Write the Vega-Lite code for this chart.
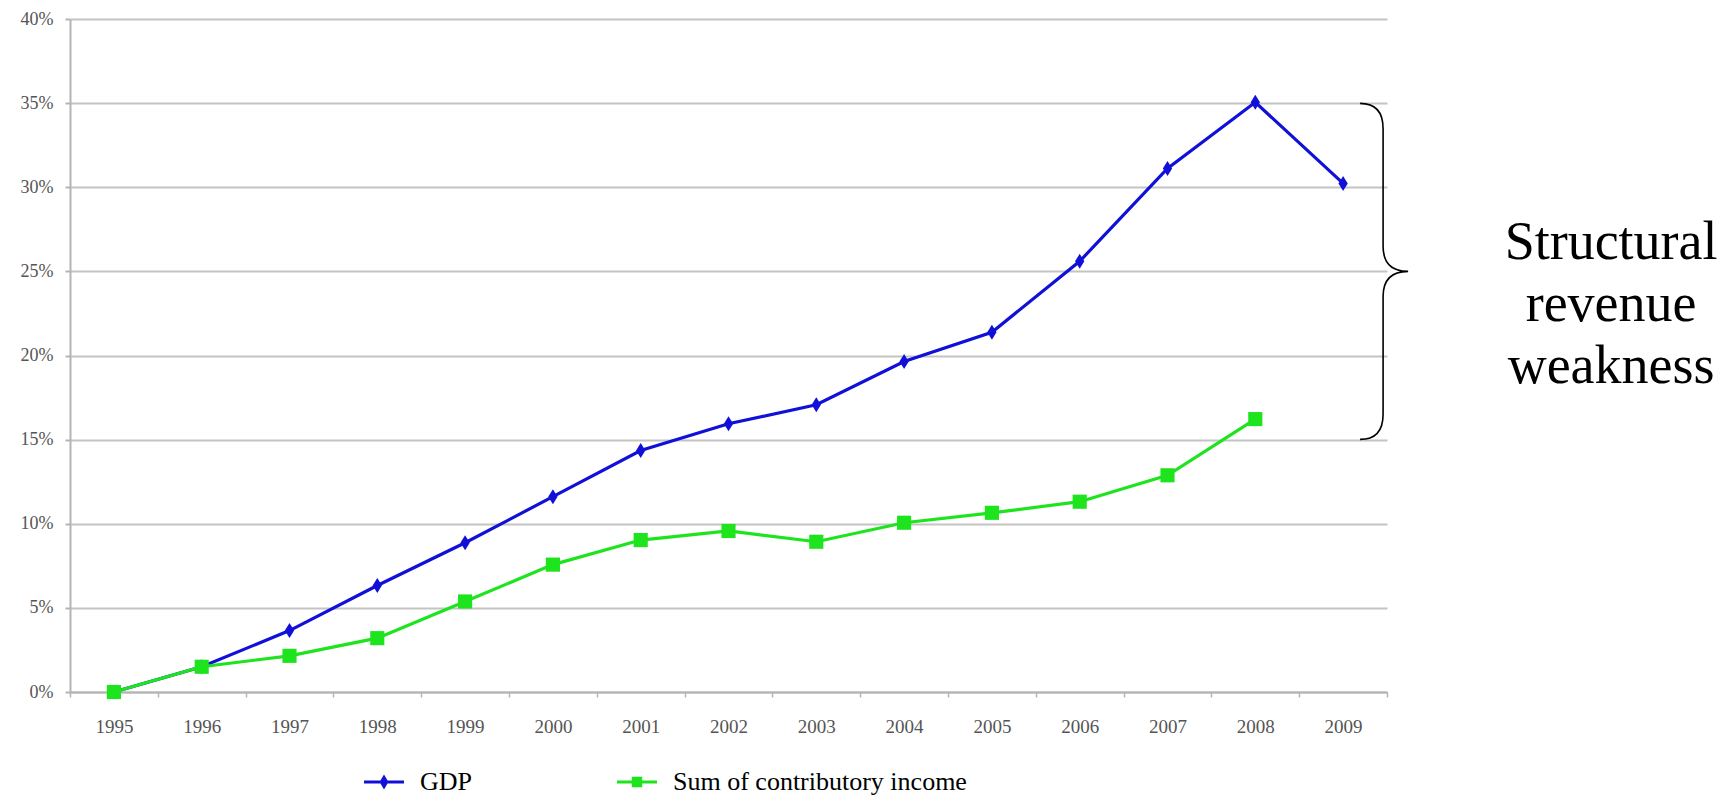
{
  "$schema": "https://vega.github.io/schema/vega-lite/v6.json",
  "width": 1317,
  "height": 673,
  "autosize": {"type": "none"},
  "padding": {"left": 70, "top": 19, "right": 346, "bottom": 106},
  "background": "white",
  "config": {
    "view": {"stroke": null},
    "font": "Liberation Serif",
    "axisX": {
      "labelAngle": 0, "tickBand": "extent", "tickSize": 5, "tickColor": "#b4b4b4", "tickWidth": 1.5,
      "domainColor": "#b4b4b4", "domainWidth": 2, "labelPadding": 20, "labelFont": "Liberation Serif",
      "labelFontSize": 19, "labelColor": "#555555", "grid": false
    },
    "axisY": {
      "grid": true, "gridColor": "#c4c4c4", "gridWidth": 2, "domainColor": "#b4b4b4", "domainWidth": 2,
      "tickColor": "#b4b4b4", "tickWidth": 2, "tickSize": 5, "labelPadding": 12, "labelFont": "Liberation Serif",
      "labelFontSize": 18, "labelColor": "#555555"
    }
  },
  "datasets": {
    "series": [
      {"year": "1995", "series": "GDP", "value": 0},
      {"year": "1996", "series": "GDP", "value": 1.5},
      {"year": "1997", "series": "GDP", "value": 3.65},
      {"year": "1998", "series": "GDP", "value": 6.33},
      {"year": "1999", "series": "GDP", "value": 8.87},
      {"year": "2000", "series": "GDP", "value": 11.61},
      {"year": "2001", "series": "GDP", "value": 14.35},
      {"year": "2002", "series": "GDP", "value": 15.94},
      {"year": "2003", "series": "GDP", "value": 17.07},
      {"year": "2004", "series": "GDP", "value": 19.64},
      {"year": "2005", "series": "GDP", "value": 21.38},
      {"year": "2006", "series": "GDP", "value": 25.6},
      {"year": "2007", "series": "GDP", "value": 31.12},
      {"year": "2008", "series": "GDP", "value": 35.05},
      {"year": "2009", "series": "GDP", "value": 30.23},
      {"year": "1995", "series": "Sum of contributory income", "value": 0},
      {"year": "1996", "series": "Sum of contributory income", "value": 1.5},
      {"year": "1997", "series": "Sum of contributory income", "value": 2.15},
      {"year": "1998", "series": "Sum of contributory income", "value": 3.2},
      {"year": "1999", "series": "Sum of contributory income", "value": 5.38},
      {"year": "2000", "series": "Sum of contributory income", "value": 7.57},
      {"year": "2001", "series": "Sum of contributory income", "value": 9.03},
      {"year": "2002", "series": "Sum of contributory income", "value": 9.57},
      {"year": "2003", "series": "Sum of contributory income", "value": 8.93},
      {"year": "2004", "series": "Sum of contributory income", "value": 10.06},
      {"year": "2005", "series": "Sum of contributory income", "value": 10.65},
      {"year": "2006", "series": "Sum of contributory income", "value": 11.31},
      {"year": "2007", "series": "Sum of contributory income", "value": 12.88},
      {"year": "2008", "series": "Sum of contributory income", "value": 16.22}
    ],
    "note": [
      {"year": "2009", "value": 25, "label": "Structural\nrevenue\nweakness"}
    ]
  },
  "layer": [
    {
      "data": {"name": "series"},
      "mark": {"type": "line", "strokeWidth": 3.2},
      "encoding": {
        "x": {"field": "year", "type": "ordinal", "bandPosition": 0.5, "scale": {"type": "band", "paddingInner": 0, "paddingOuter": 0}, "axis": {"title": null}},
        "y": {"field": "value", "type": "quantitative", "scale": {"domain": [0, 40], "nice": false},
              "axis": {"title": null, "values": [0, 5, 10, 15, 20, 25, 30, 35, 40], "labelExpr": "datum.value + '%'"}},
        "color": {
          "field": "series", "type": "nominal",
          "scale": {"domain": ["GDP", "Sum of contributory income"], "range": ["#1010d8", "#1ee41e"]},
          "legend": {
            "orient": "none", "legendX": 294, "legendY": 743, "direction": "horizontal", "title": null,
            "padding": 0, "symbolSize": 1600, "labelFont": "Liberation Serif", "labelFontSize": 26,
            "labelColor": "black", "labelOffset": 16, "columnPadding": 144, "labelLimit": 500,
            "encode": {
              "symbols": {
                "update": {
                  "shape": {"signal": "datum.value === 'GDP' ? 'M-1,-0.08H1V0.08H-1Z M0,-0.38L0.22,0L0,0.38L-0.22,0Z' : 'M-1,-0.08H1V0.08H-1Z M-0.26,-0.26H0.26V0.26H-0.26Z'"},
                  "fill": {"signal": "scale('color', datum.value)"},
                  "fillOpacity": {"value": 1},
                  "opacity": {"value": 1},
                  "strokeWidth": {"value": 0}
                }
              }
            }
          }
        }
      }
    },
    {
      "data": {"name": "series"},
      "transform": [{"filter": "datum.series === 'GDP'"}],
      "mark": {"type": "point", "filled": true, "opacity": 1, "shape": "M0,-1L0.62,0L0,1L-0.62,0Z", "size": 225},
      "encoding": {
        "x": {"field": "year", "type": "ordinal", "bandPosition": 0.5, "axis": {"title": null}},
        "y": {"field": "value", "type": "quantitative", "axis": {"title": null}},
        "color": {"field": "series", "type": "nominal"}
      }
    },
    {
      "data": {"name": "series"},
      "transform": [{"filter": "datum.series !== 'GDP'"}],
      "mark": {"type": "point", "filled": true, "opacity": 1, "shape": "square", "size": 200},
      "encoding": {
        "x": {"field": "year", "type": "ordinal", "bandPosition": 0.5, "axis": {"title": null}},
        "y": {"field": "value", "type": "quantitative", "axis": {"title": null}},
        "color": {"field": "series", "type": "nominal"}
      }
    },
    {
      "data": {"name": "note"},
      "mark": {
        "type": "point", "filled": false, "opacity": 1, "color": "black", "strokeWidth": 1.6, "size": 112896,
        "shape": "M0.101,-1Q0.238,-1 0.238,-0.85L0.238,-0.15Q0.238,0 0.387,0Q0.238,0 0.238,0.15L0.238,0.85Q0.238,1 0.101,1"
      },
      "encoding": {
        "x": {"field": "year", "type": "ordinal", "bandPosition": 0.5, "axis": {"title": null}},
        "y": {"field": "value", "type": "quantitative", "axis": {"title": null}}
      }
    },
    {
      "data": {"name": "note"},
      "mark": {
        "type": "text", "font": "Liberation Serif", "fontSize": 54, "lineHeight": 62, "lineBreak": "\n",
        "align": "center", "baseline": "alphabetic", "dx": 268, "dy": -12, "color": "black"
      },
      "encoding": {
        "x": {"field": "year", "type": "ordinal", "bandPosition": 0.5, "axis": {"title": null}},
        "y": {"field": "value", "type": "quantitative", "axis": {"title": null}},
        "text": {"field": "label"}
      }
    }
  ]
}
